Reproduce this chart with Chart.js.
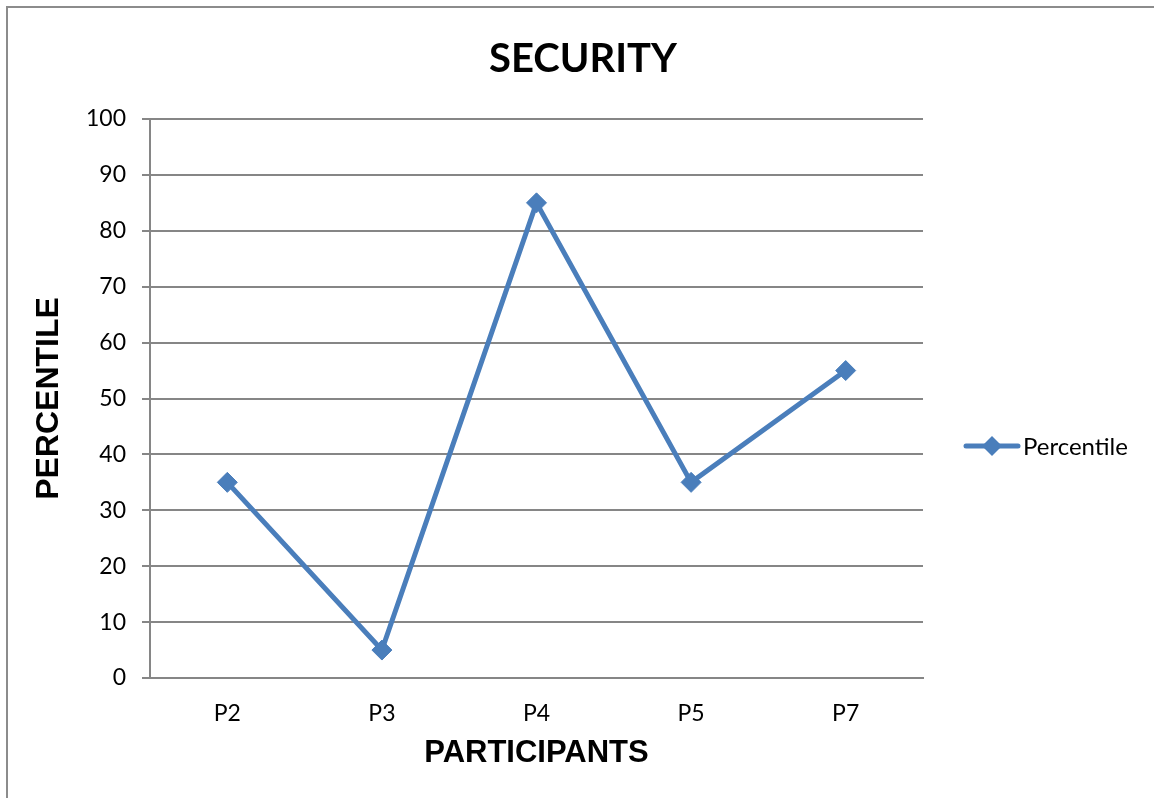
<!DOCTYPE html>
<html>
<head>
<meta charset="utf-8">
<script src="https://cdn.jsdelivr.net/npm/chart.js@4.4.0/dist/chart.umd.min.js"></script>
<style>
  html, body { margin: 0; padding: 0; background: #fff; overflow: hidden; }
  #wrap { position: absolute; left: 0; top: 0; width: 1154px; height: 798px; }
  #frame { position: absolute; left: 6px; top: 6px; width: 1200px; height: 900px;
           border: 2px solid #8c8c8c; pointer-events: none; }
</style>
</head>
<body>
<div id="wrap">
  <canvas id="myChart" width="1154" height="798"></canvas>
  <div id="frame"></div>
</div>
<script>
// data
const participants = ['P2', 'P3', 'P4', 'P5', 'P7']
const percentile = [35, 5, 85, 35, 55]
const yTicks = [0, 10, 20, 30, 40, 50, 60, 70, 80, 90, 100]

const blue = '#4a7ebb'
const grey = '#868686'
const tickFont = { family: 'Lato', size: 23 }

// legend drawn by hand: line + diamond + text, like the Excel one
const sideLegend = {
    id: 'sideLegend',
    afterDraw(chart) {
        const ctx = chart.ctx
        const ds = chart.data.datasets[0]
        const y = 446
        ctx.save()
        ctx.strokeStyle = ds.borderColor
        ctx.lineWidth = 5
        ctx.lineCap = 'round'
        ctx.beginPath()
        ctx.moveTo(966, y)
        ctx.lineTo(1018, y)
        ctx.stroke()
        ctx.fillStyle = ds.borderColor
        ctx.beginPath()
        ctx.moveTo(992, y - 10)
        ctx.lineTo(1002, y)
        ctx.lineTo(992, y + 10)
        ctx.lineTo(982, y)
        ctx.closePath()
        ctx.fill()
        ctx.fillStyle = '#000'
        ctx.font = '24px Lato'
        ctx.textBaseline = 'middle'
        ctx.fillText(ds.label, 1023, y + 1)
        ctx.restore()
    }
}

const ctx = document.getElementById('myChart').getContext('2d')
const myChart = new Chart(ctx, {
    type: 'line',
    data: {
        labels: participants,
        datasets: [{
            label: 'Percentile',
            data: percentile,
            borderColor: blue,
            backgroundColor: blue,
            borderWidth: 5,
            pointStyle: 'rectRot',
            pointRadius: 10,
            pointBorderWidth: 1,
            tension: 0
        }]
    },
    options: {
        responsive: false,
        animation: false,
        layout: { padding: { left: 12, right: 0, top: 0, bottom: 0 } },
        plugins: {
            legend: { display: false },
            tooltip: { enabled: false },
            title: {
                display: true,
                text: 'SECURITY',
                color: '#000',
                font: { family: 'Lato', size: 40, weight: 'bold', lineHeight: 1.2 },
                padding: { top: 35, bottom: 36 }
            }
        },
        scales: {
            x: {
                offset: true,
                grid: { display: false, drawTicks: false },
                border: { display: true, color: grey, width: 2 },
                ticks: { color: '#000', font: tickFont, padding: 22 },
                title: {
                    display: true,
                    text: 'PARTICIPANTS',
                    color: '#000',
                    font: { family: 'Liberation Sans', size: 31, weight: 'bold', lineHeight: 1.2 },
                    padding: { top: 0, bottom: 26 }
                },
                afterFit(scale) { scale.height = 120 }
            },
            y: {
                min: 0,
                max: 100,
                afterBuildTicks(scale) { scale.ticks = yTicks.map(v => ({ value: v })) },
                grid: { color: grey, lineWidth: 2, drawTicks: true, tickLength: 8 },
                border: { display: true, color: grey, width: 2 },
                ticks: { color: '#000', font: tickFont, padding: 16 },
                title: {
                    display: true,
                    text: 'PERCENTILE',
                    color: '#000',
                    font: { family: 'Liberation Sans', size: 32, weight: 'bold', lineHeight: 1.2 },
                    padding: { top: 18, bottom: 0 }
                },
                afterFit(scale) { scale.width = 138 }
            },
            // empty right-hand axis that only reserves the space where the legend sits
            yRight: {
                position: 'right',
                display: true,
                grid: { display: false, drawTicks: false },
                border: { display: false },
                ticks: { display: false },
                afterFit(scale) { scale.width = 231 }
            }
        }
    },
    plugins: [sideLegend]
})
</script>
</body>
</html>
